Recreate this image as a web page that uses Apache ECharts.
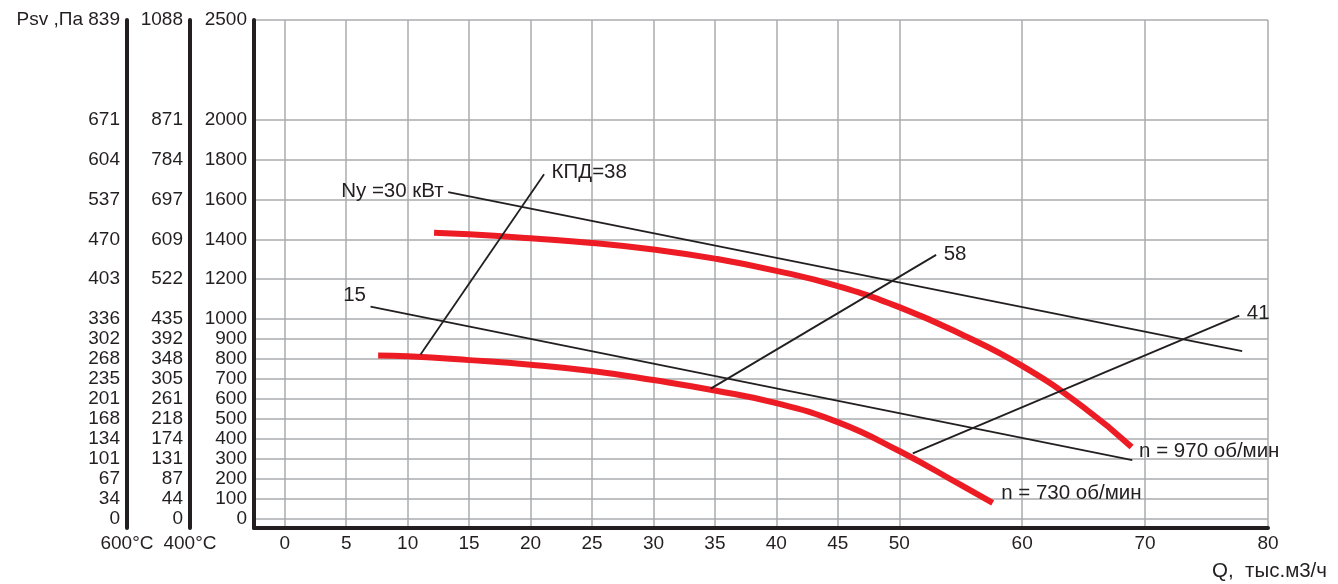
<!DOCTYPE html>
<html><head><meta charset="utf-8">
<script src="https://cdn.jsdelivr.net/npm/echarts@6/dist/echarts.min.js"></script>
<style>html,body{margin:0;padding:0;background:#fff}#c{width:1338px;height:584px}</style>
</head><body><div id="c"></div>
<script>
// ---- data ----
const qTicks = [0, 5, 10, 15, 20, 25, 30, 35, 40, 45, 50, 60, 70, 80];
const pTicks = [0, 100, 200, 300, 400, 500, 600, 700, 800, 900, 1000, 1200, 1400, 1600, 1800, 2000, 2500];
const p400Labels = ['0', '44', '87', '131', '174', '218', '261', '305', '348', '392', '435', '522', '609', '697', '784', '871', '1088'];
const p600Labels = ['0', '34', '67', '101', '134', '168', '201', '235', '268', '302', '336', '403', '470', '537', '604', '671', '839'];
const pUnitLabel = 'Psv ,Па';
const qAxisName = 'Q,  тыс.м3/ч';
const axis600Name = '600°C';
const axis400Name = '400°C';

const n970Q = [12.15, 15, 20, 25, 30, 35, 40, 45, 50, 55, 60, 65, 68.9];
const n970P = [1433, 1425, 1405, 1382, 1349, 1303, 1242, 1165, 1060, 925, 765, 557, 358];
const n730Q = [7.6, 10, 15, 20, 25, 30, 35, 40, 45, 50, 55, 57.6];
const n730P = [817, 813, 794, 771, 739, 694, 642, 578, 483, 338, 168, 78];

const nyQ = [13.3, 77.9];      const nyP = [1637, 839];
const line15Q = [6.98, 68.96]; const line15P = [1062, 292];
const kpd38Q = [11.05, 21.1];  const kpd38P = [822, 1726];
const kpd58Q = [34.66, 53.0];  const kpd58P = [651, 1322];
const kpd41Q = [51.1, 77.66];  const kpd41P = [326, 1017];

const labelNy = 'Ny =30 кВт';
const label15 = '15';
const labelKpd38 = 'КПД=38';
const labelKpd58 = '58';
const labelKpd41 = '41';
const labelN970 = 'n = 970 об/мин';
const labelN730 = 'n = 730 об/мин';

// ---- chart ----
const FONT = "'Liberation Sans', Arial, Helvetica, sans-serif";
const INK = '#231f20';
const RED = '#ed1c24';
const GRID = '#a9abae';
const FS = 19;
const LFS = 20.5;

function pairs(qs, ps) { return qs.map((q, i) => [q, ps[i]]); }

function yAxisCfg(labels, offset, name, withSplit, prefix) {
  return {
    type: 'value', min: -48, max: 2500, position: 'left', offset: offset,
    gridIndex: 0,
    name: name, nameLocation: 'start', nameGap: 6,
    nameTextStyle: { color: INK, fontSize: FS, fontFamily: FONT },
    axisLine: { show: true, onZero: false, lineStyle: { color: INK, width: 4 } },
    axisTick: { show: false, customValues: pTicks },
    axisLabel: {
      customValues: pTicks, color: INK, fontSize: FS, fontFamily: FONT, margin: 7,
      hideOverlap: false,
      formatter: function (v) {
        const i = pTicks.indexOf(Number(v));
        let t = i >= 0 ? labels[i] : '';
        if (prefix && i === pTicks.length - 1) t = prefix + ' ' + t;
        return t;
      }
    },
    splitLine: { show: withSplit, lineStyle: { color: GRID, width: 1.5 } }
  };
}

const lineBase = (data, color, width, z, smooth) => ({
  type: 'line', data: data, showSymbol: false, symbol: 'none', silent: true,
  smooth: smooth || false,
  lineStyle: { color: color, width: width, cap: 'butt' }, z: z, animation: false
});

const red970 = pairs(n970Q, n970P);
const red730 = pairs(n730Q, n730P);
const lNy = pairs(nyQ, nyP);
const l15 = pairs(line15Q, line15P);
const l38 = pairs(kpd38Q, kpd38P);
const l58 = pairs(kpd58Q, kpd58P);
const l41 = pairs(kpd41Q, kpd41P);

function lab(pt, text, pos, dist, off) {
  return {
    value: pt, name: text,
    label: { show: true, position: pos, distance: dist, offset: off, formatter: text,
             color: INK, opacity: 1, fontSize: LFS, fontFamily: FONT }
  };
}

const labelItems = [
  lab(lNy[0], labelNy, 'left', 4, [0, -1]),
  lab(l15[0], label15, 'left', 4, [0, -11]),
  lab(l38[1], labelKpd38, 'right', 7, [0, -2]),
  lab(l58[1], labelKpd58, 'right', 7, [0, -1]),
  lab(l41[1], labelKpd41, 'right', 7, [0, -2]),
  lab(red970[red970.length - 1], labelN970, 'right', 7, [0, 4]),
  lab(red730[red730.length - 1], labelN730, 'right', 8, [0, -10])
];

const chart = echarts.init(document.getElementById('c'), null, { renderer: 'canvas' });
chart.setOption({
  animation: false,
  backgroundColor: '#fff',
  grid: { left: 254, right: 70, top: 20, bottom: 56, containLabel: false, outerBoundsMode: 'none' },
  xAxis: {
    type: 'value', min: -2.5, max: 80,
    axisLine: { show: true, onZero: false, lineStyle: { color: INK, width: 4 } },
    axisTick: { show: false, customValues: qTicks },
    axisLabel: { customValues: qTicks, color: INK, fontSize: FS, fontFamily: FONT, margin: 6, hideOverlap: false },
    splitLine: { show: true, lineStyle: { color: GRID, width: 1.5 } }
  },
  yAxis: [
    yAxisCfg(pTicks.map(String), 0, '', true, null),
    yAxisCfg(p400Labels, 64, axis400Name, false, null),
    yAxisCfg(p600Labels, 127, axis600Name, false, pUnitLabel)
  ],
  graphic: [{
    type: 'text', right: 11, top: 561,
    style: { text: qAxisName, fill: INK, font: LFS + 'px ' + FONT }
  }],
  series: [
    lineBase(red970, RED, 6, 2, 0.5),
    lineBase(red730, RED, 6, 2, 0.5),
    lineBase(lNy, INK, 1.8, 3),
    lineBase(l15, INK, 1.8, 3),
    lineBase(l38, INK, 1.8, 3),
    lineBase(l58, INK, 1.8, 3),
    lineBase(l41, INK, 1.8, 3),
    {
      type: 'scatter', data: labelItems, symbol: 'circle', symbolSize: 1, silent: true, z: 5,
      itemStyle: { color: 'rgba(255,255,255,0)', opacity: 1 },
      label: { color: INK, fontSize: LFS, fontFamily: FONT, opacity: 1 }
    }
  ]
});
</script>
</body></html>
